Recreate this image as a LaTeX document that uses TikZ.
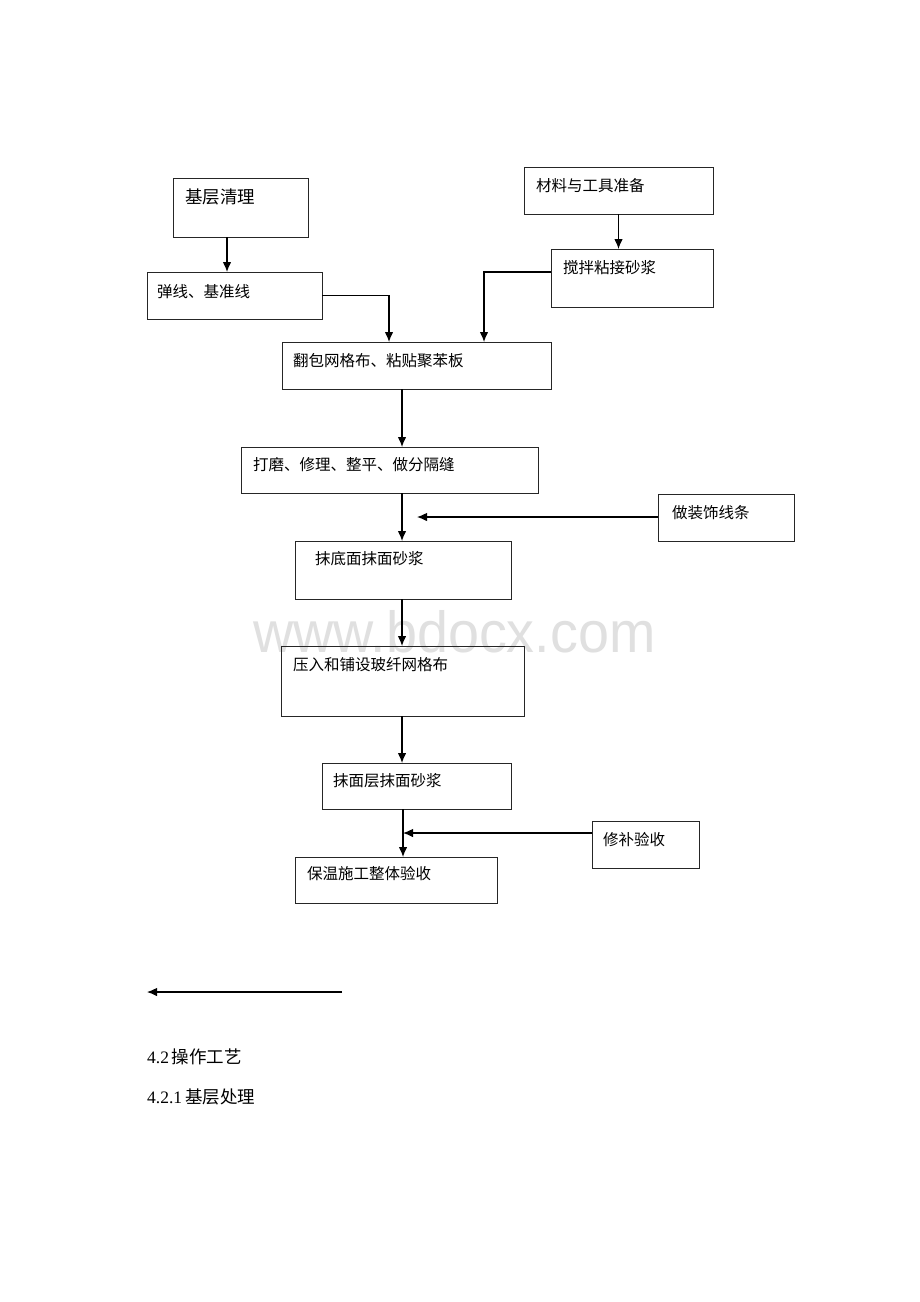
\documentclass[tikz,border=0pt]{standalone}
\usepackage{fontspec}
\setmainfont{Liberation Serif}
\newfontfamily\cjk{Noto Sans CJK SC}
\newfontfamily\wmfont{Liberation Sans}
\usetikzlibrary{arrows.meta}
\tikzset{
  box/.style={draw=black!85, line width=1pt, anchor=north west, inner sep=0pt, outer sep=0pt},
  lbl/.style={anchor=west, inner sep=0pt, font=\cjk\fontsize{15.5}{18}\selectfont},
  arr/.style={line width=1.1pt, -{Latex[length=10pt,width=8.5pt]}},
  para/.style={anchor=west, inner sep=0pt, font=\fontsize{17.5}{20}\selectfont}
}
\begin{document}
\begin{tikzpicture}[x=1pt,y=-1pt]
\useasboundingbox (0,0) rectangle (920,1302);
\fill[white] (0,0) rectangle (920,1302);
% watermark
\node[anchor=base west, inner sep=0pt, text=black!12, xscale=0.96, font=\wmfont\fontsize{58}{66}\selectfont] (wm) at (253,652) {www.bdocx.com};
% boxes
\node[box, minimum width=135pt, minimum height=59pt] (jc) at (173,178) {};
\node[box, minimum width=175pt, minimum height=47pt] (tx) at (147,272) {};
\node[box, minimum width=269pt, minimum height=47pt] (fb) at (282,342) {};
\node[box, minimum width=189pt, minimum height=47pt] (cl) at (524,167) {};
\node[box, minimum width=162pt, minimum height=58pt] (jb) at (551,249) {};
\node[box, minimum width=297pt, minimum height=46pt] (dm) at (241,447) {};
\node[box, minimum width=136pt, minimum height=47pt] (zs) at (658,494) {};
\node[box, minimum width=216pt, minimum height=58pt] (md) at (295,541) {};
\node[box, minimum width=243pt, minimum height=70pt] (yr) at (281,646) {};
\node[box, minimum width=189pt, minimum height=46pt] (mm) at (322,763) {};
\node[box, minimum width=107pt, minimum height=47pt] (xb) at (592,821) {};
\node[box, minimum width=202pt, minimum height=46pt] (bw) at (295,857) {};
% labels
\node[lbl, font=\cjk\fontsize{17.5}{20}\selectfont] (jct) at (185,197) {基层清理};
\node[lbl] (txt) at (157,292) {弹线、基准线};
\node[lbl] (fbt) at (293,361) {翻包网格布、粘贴聚苯板};
\node[lbl] (clt) at (536,186) {材料与工具准备};
\node[lbl] (jbt) at (563,268) {搅拌粘接砂浆};
\node[lbl] (dmt) at (253,465) {打磨、修理、整平、做分隔缝};
\node[lbl] (zst) at (672,513) {做装饰线条};
\node[lbl] (mdt) at (315,559) {抹底面抹面砂浆};
\node[lbl] (yrt) at (293,665) {压入和铺设玻纤网格布};
\node[lbl] (mmt) at (333,781) {抹面层抹面砂浆};
\node[lbl] (xbt) at (603,840) {修补验收};
\node[lbl] (bwt) at (307,874) {保温施工整体验收};
% helper coordinates
\coordinate (c227) at (227,0);
\coordinate (c389) at (389,0);
\coordinate (c484) at (484,0);
\coordinate (c402) at (402,0);
\coordinate (c403) at (403,0);
\coordinate (y272) at (0,272);
\coordinate (zsend) at (417,517);
\coordinate (xbend) at (403,833);
\coordinate (la) at (342,992);
\coordinate (lb) at (147,992);
% connectors
\draw[arr] (jc.south -| c227) -- (tx.north -| c227);
\draw[arr] (tx.east) -| (fb.north -| c389);
\draw[arr] (cl.south) -- (jb.north -| cl.south);
\draw[arr] (jb.west |- y272) -| (fb.north -| c484);
\draw[arr] (fb.south -| c402) -- (dm.north -| c402);
\draw[arr] (dm.south -| c402) -- (md.north -| c402);
\draw[arr] (zs.west |- zsend) -- (zsend);
\draw[arr] (md.south -| c402) -- (yr.north -| c402);
\draw[arr] (yr.south -| c402) -- (mm.north -| c402);
\draw[arr] (mm.south -| c403) -- (bw.north -| c403);
\draw[arr] (xb.west |- xbend) -- (xbend);
\draw[arr] (la) -- (lb);
% paragraph text
\node[para] (p1) at (147,1057) {4.2\,{\cjk 操作工艺}};
\node[para] (p2) at (147,1097) {4.2.1\,{\cjk 基层处理}};
\end{tikzpicture}
\end{document}
